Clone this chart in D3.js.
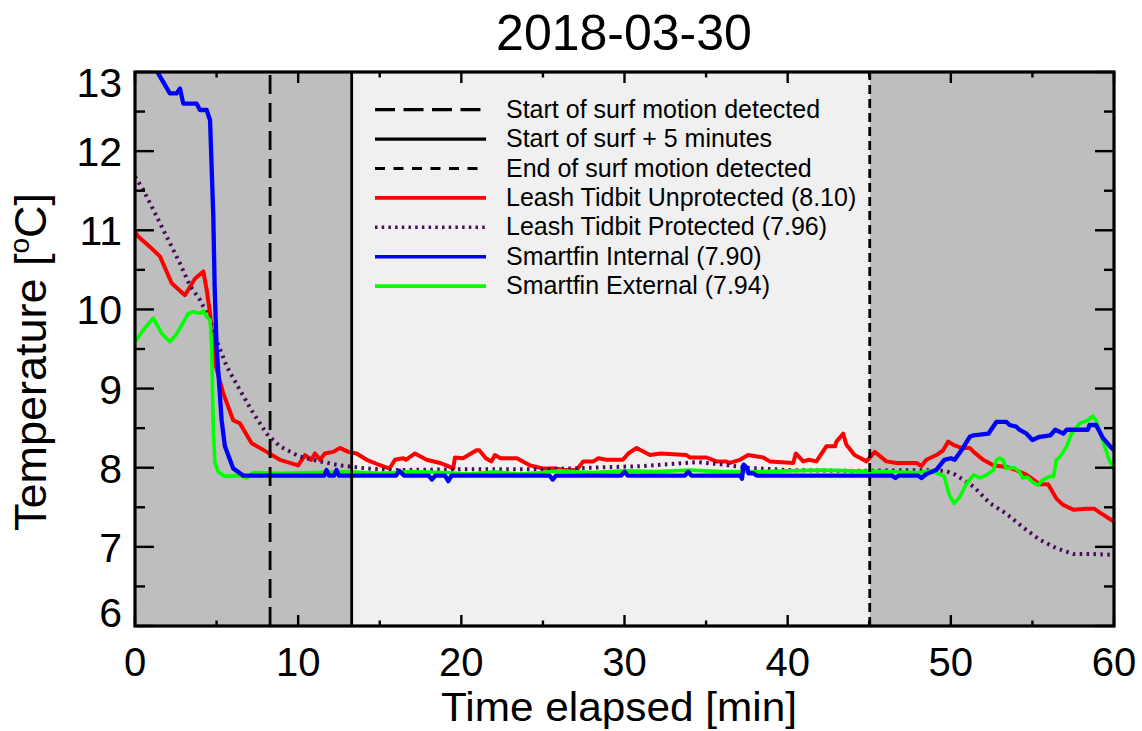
<!DOCTYPE html>
<html><head><meta charset="utf-8">
<script src="https://cdn.jsdelivr.net/npm/d3@7"></script>
<style>
html,body{margin:0;padding:0;background:#fff;}
svg{display:block;font-family:"Liberation Sans",Arial,Helvetica,sans-serif;}
</style></head>
<body>
<svg id="chart" width="1142" height="731"></svg>
<script>
// ---------- data ----------
const title = "2018-03-30";
const xTicks = [0, 10, 20, 30, 40, 50, 60];
const yTicks = [6, 7, 8, 9, 10, 11, 12, 13];
const surfStart = 8.28;          // start of surf motion detected [min]
const surfStartPlus5 = 13.28;    // start + 5 minutes
const surfEnd = 45.03;           // end of surf motion detected

const legendLabels = [
  "Start of surf motion detected",
  "Start of surf + 5 minutes",
  "End of surf motion detected",
  "Leash Tidbit Unprotected (8.10)",
  "Leash Tidbit Protected (7.96)",
  "Smartfin Internal (7.90)",
  "Smartfin External (7.94)"
];

// [time (min), temperature (°C)]
const leashUnprotected = [[0,10.98],[0.2,10.92],[0.92,10.79],[1.53,10.67],[2.25,10.33],[3.06,10.18],[3.68,10.39],[4.19,10.48],[4.39,10.25],[4.6,9.95],[4.9,9.32],[5.41,8.94],[6.02,8.60],[6.43,8.56],[7.15,8.31],[8.07,8.20],[8.88,8.10],[10.0,8.03],[10.42,8.16],[10.8,8.10],[11.03,8.18],[11.34,8.10],[11.64,8.18],[12.15,8.20],[12.56,8.25],[13.07,8.20],[13.58,8.18],[14.2,8.10],[14.8,8.05],[15.6,7.99],[15.93,8.10],[16.44,8.12],[16.6,8.10],[17.16,8.18],[17.87,8.10],[18.69,8.06],[19.3,8.01],[19.5,7.99],[19.61,8.13],[20.1,8.12],[20.93,8.22],[21.1,8.22],[21.5,8.12],[21.85,8.08],[22.06,8.16],[22.4,8.12],[23.4,8.12],[24.2,8.03],[25.0,7.99],[25.83,7.99],[26.24,7.97],[27.06,7.97],[27.47,8.08],[28.1,8.08],[28.4,8.12],[28.9,8.10],[29.9,8.10],[30.23,8.18],[30.74,8.25],[31.56,8.16],[32.2,8.18],[33.8,8.16],[34.0,8.13],[35.0,8.13],[35.64,8.08],[36.2,8.08],[36.46,8.06],[37.07,8.10],[37.58,8.16],[38.5,8.13],[38.9,8.08],[40.34,8.06],[40.5,8.18],[40.95,8.08],[41.3,8.10],[41.76,8.08],[42.37,8.27],[42.9,8.27],[42.99,8.33],[43.4,8.43],[43.6,8.29],[44.1,8.16],[44.83,8.08],[45.34,8.20],[46.05,8.08],[46.67,8.06],[47.9,8.06],[48.2,8.02],[48.5,8.10],[49.12,8.16],[49.53,8.22],[49.84,8.33],[50.15,8.29],[50.65,8.25],[51.16,8.25],[51.4,8.20],[51.98,8.10],[52.6,8.03],[53.4,8.01],[54.0,7.97],[54.64,7.91],[55.25,7.82],[55.45,7.79],[55.96,7.79],[56.47,7.61],[56.88,7.53],[57.5,7.47],[58.3,7.48],[58.8,7.48],[59.23,7.42],[59.85,7.34],[60,7.32]];

const leashProtected = [[0,11.68],[0.51,11.51],[1.12,11.26],[1.94,10.92],[2.76,10.58],[3.37,10.30],[3.98,10.12],[4.6,9.87],[5.0,9.61],[5.62,9.28],[6.43,8.98],[7.25,8.69],[8.07,8.43],[8.88,8.27],[10.1,8.14],[11.34,8.08],[12.56,8.03],[14.2,7.99],[15.8,7.97],[20,7.98],[25,7.98],[28,8.00],[31,8.02],[33,8.05],[34.5,8.07],[36,8.04],[37.5,8.00],[40,7.97],[44,7.96],[48.5,7.97],[49.7,7.96],[50.3,7.91],[51.4,7.76],[52.4,7.55],[53.4,7.42],[54.4,7.25],[55.45,7.09],[56.5,6.98],[57.5,6.91],[58.5,6.91],[60,6.90]];

const smartfinInternal = [[0,13.4],[0.7,13.2],[1.43,12.98],[2.14,12.73],[2.55,12.73],[2.76,12.79],[2.96,12.60],[3.78,12.60],[3.98,12.52],[4.39,12.52],[4.6,12.39],[4.8,11.17],[4.88,10.30],[5.0,9.53],[5.31,8.60],[5.51,8.27],[6.02,7.99],[6.64,7.90],[11.6,7.90],[11.74,7.97],[11.9,7.90],[12.2,7.90],[12.35,7.97],[12.5,7.90],[16.0,7.90],[16.2,7.96],[16.5,7.90],[18.0,7.90],[18.2,7.85],[18.4,7.90],[19.0,7.90],[19.2,7.83],[19.4,7.90],[25.4,7.90],[25.6,7.85],[25.8,7.90],[29.8,7.90],[30.0,7.95],[30.2,7.90],[33.7,7.90],[33.9,7.95],[34.1,7.90],[37.1,7.90],[37.2,7.86],[37.3,8.04],[37.5,8.00],[37.6,7.93],[37.9,7.93],[38.1,7.90],[46.4,7.90],[46.6,7.87],[46.8,7.90],[48.0,7.90],[48.2,7.87],[48.5,7.92],[49.1,7.97],[49.6,8.10],[50.0,8.12],[50.24,8.10],[50.65,8.22],[51.16,8.39],[51.4,8.41],[52.3,8.43],[52.8,8.58],[53.4,8.58],[53.6,8.54],[54.0,8.52],[54.2,8.48],[54.64,8.43],[55.0,8.35],[55.45,8.39],[56.1,8.41],[56.4,8.48],[56.9,8.43],[57.1,8.48],[58.4,8.48],[58.5,8.54],[58.9,8.54],[59.34,8.37],[59.85,8.25],[60,8.22]];

const smartfinExternal = [[0,9.59],[0.51,9.74],[1.12,9.89],[1.63,9.70],[2.14,9.59],[2.55,9.69],[2.86,9.80],[3.27,9.95],[3.57,9.97],[3.98,9.95],[4.2,9.98],[4.39,9.91],[4.6,9.87],[4.7,9.53],[4.8,8.48],[4.9,8.06],[5.1,7.95],[5.51,7.89],[6.43,7.90],[6.84,7.87],[7.25,7.94],[9,7.93],[11,7.94],[13,7.95],[15,7.93],[17,7.95],[19,7.94],[20.5,7.92],[22,7.95],[23.5,7.92],[25,7.94],[26,7.96],[28,7.94],[30,7.96],[32,7.95],[34,7.97],[36,7.95],[38,7.95],[40,7.96],[42,7.97],[44,7.96],[46,7.95],[48,7.94],[48.8,7.96],[49.6,7.89],[49.9,7.66],[50.2,7.55],[50.55,7.63],[50.96,7.80],[51.4,7.91],[51.8,7.87],[52.2,7.91],[52.6,7.97],[52.8,8.10],[53.0,8.12],[53.2,8.10],[53.4,7.99],[53.9,8.00],[54.2,7.95],[54.4,7.87],[54.7,7.88],[55.0,7.82],[55.35,7.78],[55.6,7.84],[56.06,7.89],[56.3,7.89],[56.47,8.10],[56.7,8.14],[57.1,8.27],[57.4,8.43],[57.9,8.56],[58.4,8.60],[58.7,8.65],[58.9,8.60],[59.23,8.39],[59.7,8.10],[60,7.97]];

// ---------- layout ----------
const svg = d3.select("#chart");
const L = 135, R = 1114, T = 72, B = 626;
const x = d3.scaleLinear().domain([0, 60]).range([L, R]);
const y = d3.scaleLinear().domain([6, 13]).range([B, T]);
const darkGray = "#bebebe", lightGray = "#f0f0f0";

svg.append("defs").append("clipPath").attr("id","plotclip")
  .append("rect").attr("x", L).attr("y", T).attr("width", R - L).attr("height", B - T);

// background shading
const bands = [[0, surfStartPlus5, darkGray], [surfStartPlus5, surfEnd, lightGray], [surfEnd, 60, darkGray]];
svg.append("g").selectAll("rect").data(bands).join("rect")
  .attr("x", d => x(d[0])).attr("y", T)
  .attr("width", d => x(d[1]) - x(d[0])).attr("height", B - T)
  .attr("fill", d => d[2]);

// series
const line = d3.line().x(d => x(d[0])).y(d => y(d[1]));
const series = [
  {data: leashUnprotected, color: "#ff0000", dash: null, w: 4},
  {data: leashProtected, color: "#4a0a5c", dash: "2.5,4.4", w: 4},
  {data: smartfinExternal, color: "#00ff00", dash: null, w: 3.6},
  {data: smartfinInternal, color: "#0000ff", dash: null, w: 4.3}
];
const gData = svg.append("g").attr("clip-path", "url(#plotclip)");
series.forEach(s => {
  gData.append("path").datum(s.data).attr("d", line)
    .attr("fill", "none").attr("stroke", s.color).attr("stroke-width", s.w)
    .attr("stroke-linejoin", "round")
    .attr("stroke-dasharray", s.dash);
});

// vertical event lines
const vlines = [[surfStart, "19,9"], [surfStartPlus5, null], [surfEnd, "9,5"]];
svg.append("g").selectAll("line").data(vlines).join("line")
  .attr("x1", d => x(d[0])).attr("x2", d => x(d[0]))
  .attr("y1", B).attr("y2", T)
  .attr("stroke", "#000").attr("stroke-width", 2.8)
  .attr("stroke-dasharray", d => d[1]);

// ticks (inward, on all four sides)
const tickG = svg.append("g").attr("stroke", "#000").attr("stroke-width", 2.4);
const xMinor = d3.range(5, 60, 10);
const yMinor = d3.range(6.5, 13, 1);
xTicks.forEach(v => {
  tickG.append("line").attr("x1", x(v)).attr("x2", x(v)).attr("y1", B).attr("y2", B - 11);
  tickG.append("line").attr("x1", x(v)).attr("x2", x(v)).attr("y1", T).attr("y2", T + 11);
});
xMinor.forEach(v => {
  tickG.append("line").attr("x1", x(v)).attr("x2", x(v)).attr("y1", B).attr("y2", B - 5.5);
  tickG.append("line").attr("x1", x(v)).attr("x2", x(v)).attr("y1", T).attr("y2", T + 5.5);
});
yTicks.forEach(v => {
  tickG.append("line").attr("x1", L).attr("x2", L + 19).attr("y1", y(v)).attr("y2", y(v));
  tickG.append("line").attr("x1", R).attr("x2", R - 19).attr("y1", y(v)).attr("y2", y(v));
});
yMinor.forEach(v => {
  tickG.append("line").attr("x1", L).attr("x2", L + 10).attr("y1", y(v)).attr("y2", y(v));
  tickG.append("line").attr("x1", R).attr("x2", R - 10).attr("y1", y(v)).attr("y2", y(v));
});

// frame
svg.append("rect").attr("x", L).attr("y", T).attr("width", R - L).attr("height", B - T)
  .attr("fill", "none").attr("stroke", "#000").attr("stroke-width", 3.2);

// tick labels
svg.append("g").selectAll("text").data(xTicks).join("text")
  .attr("x", d => x(d)).attr("y", 676)
  .attr("text-anchor", "middle").attr("font-size", 40).text(d => d);
svg.append("g").selectAll("text").data(yTicks).join("text")
  .attr("x", 122).attr("y", d => y(d) + 15 + (d === 13 ? 10 : 0) + (d === 6 ? -14 : 0))
  .attr("text-anchor", "end").attr("font-size", 41).text(d => d);

// axis titles
svg.append("text").attr("x", 619).attr("y", 721).attr("text-anchor", "middle")
  .attr("font-size", 41).attr("textLength", 356).attr("lengthAdjust", "spacingAndGlyphs")
  .text("Time elapsed [min]");
const yl = svg.append("text").attr("transform", "translate(46,362) rotate(-90)")
  .attr("text-anchor", "middle").attr("font-size", 45);
yl.append("tspan").text("Temperature [");
yl.append("tspan").attr("font-size", 28).attr("dy", -17).text("o");
yl.append("tspan").attr("dy", 17).text("C]");

// title
svg.append("text").attr("x", 624).attr("y", 50).attr("text-anchor", "middle")
  .attr("font-size", 50).text(title);

// legend
const legendStyles = [
  {color: "#000", dash: "20,8.5", w: 3.2},
  {color: "#000", dash: null, w: 3.2},
  {color: "#000", dash: "10,8.5", w: 3.2},
  {color: "#ff0000", dash: null, w: 3.6},
  {color: "#4a0a5c", dash: "2.5,4.2", w: 3.6},
  {color: "#0000ff", dash: null, w: 3.6},
  {color: "#00ff00", dash: null, w: 3.6}
];
const lg = svg.append("g");
legendLabels.forEach((lab, i) => {
  const by = 117.7 + 29.4 * i;
  const st = legendStyles[i];
  lg.append("line").attr("x1", 375).attr("x2", 486).attr("y1", by - 8).attr("y2", by - 8)
    .attr("stroke", st.color).attr("stroke-width", st.w).attr("stroke-dasharray", st.dash);
  lg.append("text").attr("x", 506).attr("y", by).attr("font-size", 25).text(lab);
});
</script>
</body></html>
